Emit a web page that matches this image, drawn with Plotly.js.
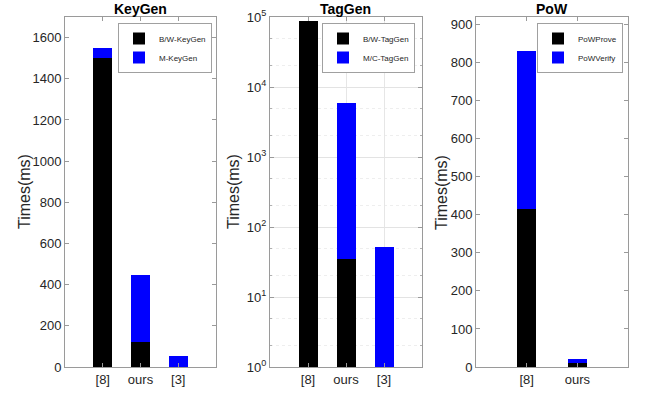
<!DOCTYPE html>
<html>
<head>
<meta charset="utf-8">
<script src="https://cdn.plot.ly/plotly-3.0.1.min.js"></script>
<style>html,body{margin:0;padding:0;background:#fff;}#chart{width:651px;height:397px;}</style>
</head>
<body>
<div id="chart"></div>
<script>
// ---- data ----
const keygenCats = ['[8]', 'ours', '[3]'];
const keygenBW = [1500, 120, 0];
const keygenM = [50, 325, 55];

const taggenCats = ['[8]', 'ours', '[3]'];
const taggenBW = [88000, 35, 0];
const taggenMC = [0, 5965, 52];

const powCats = ['[8]', 'ours'];
const powProve = [415, 10];
const powVerify = [415, 10];

const titles = ['KeyGen', 'TagGen', 'PoW'];
const yTitle = 'Times(ms)';
const logTickVals = [1, 10, 100, 1000, 10000, 100000];
const logTickText = ['10<sup>0</sup>', '10<sup>1</sup>', '10<sup>2</sup>', '10<sup>3</sup>', '10<sup>4</sup>', '10<sup>5</sup>'];

// ---- layout helpers ----
const W = 651, H = 397;
const px = v => v / W;
const py = v => 1 - v / H;
const BLACK = '#000000', BLUE = '#0000ff';
const FONT = 'Liberation Sans, Arial, sans-serif';

function bar(x, y, name, color, xa, ya, leg, width) {
  return {type: 'bar', x: x, y: y, name: name, xaxis: xa, yaxis: ya, legend: leg,
    width: width, marker: {color: color, line: {width: 0}}, hoverinfo: 'skip'};
}

const traces = [
  bar(keygenCats, keygenBW, 'B/W-KeyGen', BLACK, 'x', 'y', 'legend', 0.5),
  bar(keygenCats, keygenM, 'M-KeyGen', BLUE, 'x', 'y', 'legend', 0.5),
  bar(taggenCats, taggenBW, 'B/W-TagGen', BLACK, 'x2', 'y2', 'legend2', 0.5),
  bar(taggenCats, taggenMC, 'M/C-TagGen', BLUE, 'x2', 'y2', 'legend2', 0.5),
  bar(powCats, powProve, 'PoWProve', BLACK, 'x3', 'y3', 'legend3', 0.37),
  bar(powCats, powVerify, 'PoWVerify', BLUE, 'x3', 'y3', 'legend3', 0.37)
];

const axCommon = {showline: true, linecolor: '#9a9a9a', linewidth: 1, mirror: 'ticks',
  ticks: 'inside', ticklen: 4, tickcolor: '#9a9a9a', zeroline: false, fixedrange: true,
  tickfont: {family: FONT, size: 13, color: '#262626'}};

const panels = [[65, 216], [270, 422], [476, 628]];
const yTop = 17, yBot = 367;

function xax(i, n) {
  return Object.assign({}, axCommon, {anchor: i === 0 ? 'y' : 'y' + (i + 1),
    domain: [px(panels[i][0]), px(panels[i][1])], type: 'category',
    range: [-1, n], showgrid: i === 1, gridcolor: '#e6e6e6'});
}

function legendAt(i, right) {
  return {x: px(right), y: py(23), xanchor: 'right', yanchor: 'top',
    xref: 'paper', yref: 'paper', bgcolor: '#ffffff', bordercolor: '#a0a0a0',
    borderwidth: 1, font: {family: FONT, size: 8, color: '#262626'},
    itemwidth: 30, tracegroupgap: 0, traceorder: 'normal'};
}

const annotations = [];
titles.forEach((t, i) => {
  annotations.push({text: '<b>' + t + '</b>', x: px((panels[i][0] + panels[i][1]) / 2), y: py(9),
    xref: 'paper', yref: 'paper', showarrow: false, xanchor: 'center', yanchor: 'middle',
    font: {family: FONT, size: 14, color: '#000000'}});
});
[24, 233, 441].forEach(xc => {
  annotations.push({text: yTitle, x: px(xc), y: py(192), xref: 'paper', yref: 'paper',
    showarrow: false, textangle: -90, xanchor: 'center', yanchor: 'middle',
    font: {family: FONT, size: 16, color: '#262626'}});
});

const layout = {
  width: W, height: H, margin: {l: 0, r: 0, t: 0, b: 0},
  paper_bgcolor: '#ffffff', plot_bgcolor: '#ffffff',
  barmode: 'stack', showlegend: true,
  font: {family: FONT, color: '#262626'},
  xaxis: xax(0, 3), xaxis2: xax(1, 3), xaxis3: xax(2, 2),
  yaxis: Object.assign({}, axCommon, {anchor: 'x', domain: [py(yBot), py(yTop)],
    range: [0, 1700], dtick: 200, tick0: 0, showgrid: false}),
  yaxis2: Object.assign({}, axCommon, {anchor: 'x2', domain: [py(yBot), py(yTop)],
    type: 'log', range: [0, 5], tickmode: 'array', tickvals: logTickVals, ticktext: logTickText,
    showgrid: true, gridcolor: '#e3e3e3',
    minor: {showgrid: true, gridcolor: '#eeeeee', griddash: 'dot', ticks: 'inside', ticklen: 2, tickcolor: '#b0b0b0'}}),
  yaxis3: Object.assign({}, axCommon, {anchor: 'x3', domain: [py(yBot), py(yTop)],
    range: [0, 920], dtick: 100, tick0: 0, showgrid: false}),
  legend: legendAt(0, 212),
  legend2: legendAt(1, 415),
  legend3: legendAt(2, 623),
  annotations: annotations
};

Plotly.newPlot('chart', traces, layout, {displayModeBar: false, staticPlot: true});
</script>
</body>
</html>
